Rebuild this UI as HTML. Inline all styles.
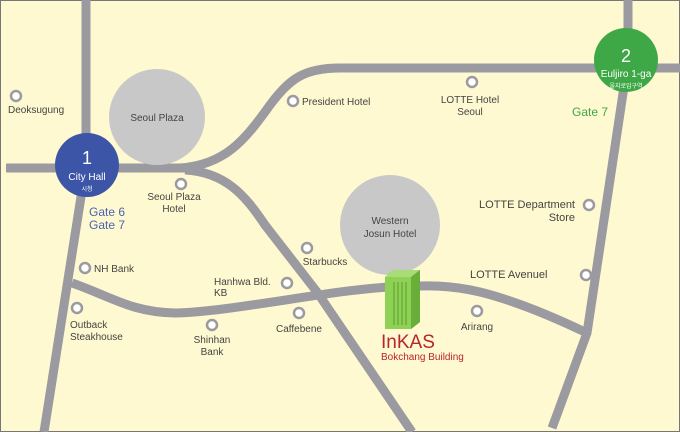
<!DOCTYPE html>
<html><head><style>
html,body{margin:0;padding:0;background:#fef9d0}
svg{display:block}
text{font-family:"Liberation Sans","Noto Sans CJK KR",sans-serif;font-size:10px;fill:#444}
</style></head><body>
<svg width="680" height="432" viewBox="0 0 680 432">
<rect x="0.5" y="0.5" width="679" height="431" fill="#fef9d0" stroke="#777"/>
<g fill="none" stroke="#9a9aa0" stroke-width="9" stroke-linejoin="round">
<path d="M86,0 L86,165 L44,432"/>
<path d="M6,168 L190,168"/>
<path d="M180,168 C225,165 245,140 270,105 C290,78 305,68 340,68 L680,68"/>
<path d="M185,170 C225,172 245,195 265,225 L317,292 L412,432"/>
<path d="M628,0 L628,60 L587,333 L552,428"/>
<path d="M72,283 C110,296 130,312 175,313 C230,312 330,290 390,287 C430,285 450,285 480,292 C520,302 560,320 587,333"/>
</g>
<circle cx="157" cy="117" r="48" fill="#c8c8c9"/>
<circle cx="390" cy="225" r="50" fill="#c8c8c9"/>
<text x="157" y="121" text-anchor="middle">Seoul Plaza</text>
<text x="390" y="224" text-anchor="middle">Western</text>
<text x="390" y="237" text-anchor="middle">Josun Hotel</text>
<circle cx="87" cy="165" r="32" fill="#3c55a6"/>
<text x="87" y="164" text-anchor="middle" style="font-size:18px;fill:#fff">1</text>
<text x="87" y="180" text-anchor="middle" style="font-size:10px;fill:#fff">City Hall</text>
<text x="87" y="191" text-anchor="middle" style="font-size:6px;fill:#fff">시청</text>
<circle cx="626" cy="60" r="32" fill="#3ea846"/>
<text x="626" y="62" text-anchor="middle" style="font-size:18px;fill:#fff">2</text>
<text x="626" y="77" text-anchor="middle" style="font-size:10px;fill:#fff">Euljiro 1-ga</text>
<text x="626" y="88" text-anchor="middle" style="font-size:6px;fill:#fff">을지로입구역</text>
<text x="89" y="216" style="font-size:12px;fill:#4a63b0">Gate 6</text>
<text x="89" y="229" style="font-size:12px;fill:#4a63b0">Gate 7</text>
<text x="572" y="116" style="font-size:12px;fill:#3ea846">Gate 7</text>
<g fill="#fff" stroke="#9a9aa0" stroke-width="2.5">
<circle cx="16" cy="96" r="5"/><circle cx="181" cy="184" r="5"/><circle cx="293" cy="101" r="5"/>
<circle cx="472" cy="82" r="5"/><circle cx="589" cy="205" r="5"/><circle cx="586" cy="275" r="5"/>
<circle cx="85" cy="268" r="5"/><circle cx="77" cy="308" r="5"/><circle cx="212" cy="325" r="5"/>
<circle cx="287" cy="283" r="5"/><circle cx="299" cy="313" r="5"/><circle cx="307" cy="248" r="5"/>
<circle cx="477" cy="311" r="5"/>
</g>
<text x="8" y="113">Deoksugung</text>
<text x="174" y="200" text-anchor="middle">Seoul Plaza</text>
<text x="174" y="212" text-anchor="middle">Hotel</text>
<text x="302" y="105">President Hotel</text>
<text x="470" y="103" text-anchor="middle">LOTTE Hotel</text>
<text x="470" y="115" text-anchor="middle">Seoul</text>
<text x="575" y="208" text-anchor="end" style="font-size:11px">LOTTE Department</text>
<text x="575" y="221" text-anchor="end" style="font-size:11px">Store</text>
<text x="470" y="278" style="font-size:11px">LOTTE  Avenuel</text>
<text x="94" y="272">NH Bank</text>
<text x="70" y="328">Outback</text>
<text x="70" y="340">Steakhouse</text>
<text x="212" y="343" text-anchor="middle">Shinhan</text>
<text x="212" y="355" text-anchor="middle">Bank</text>
<text x="214" y="285">Hanhwa Bld.</text>
<text x="214" y="296">KB</text>
<text x="299" y="332" text-anchor="middle">Caffebene</text>
<text x="325" y="265" text-anchor="middle">Starbucks</text>
<text x="477" y="330" text-anchor="middle">Arirang</text>
<polygon points="385,277 393,270 420,270 420,322 411,329 385,329" fill="#7cc34a"/>
<rect x="385" y="277" width="26" height="52" fill="#8fd155"/>
<polygon points="385,277 393,270 420,270 411,277" fill="#a8dc76"/>
<polygon points="411,277 420,270 420,322 411,329" fill="#6aae3a"/>
<g stroke="#5a9a2e" stroke-width="1"><line x1="394" y1="282" x2="394" y2="325"/><line x1="398" y1="282" x2="398" y2="325"/><line x1="402" y1="282" x2="402" y2="325"/><line x1="406" y1="282" x2="406" y2="325"/></g>
<text x="381" y="348" style="font-size:19px;fill:#b8252c">InKAS</text>
<text x="381" y="360" style="font-size:10px;fill:#b8252c">Bokchang Building</text>
</svg>
</body></html>
